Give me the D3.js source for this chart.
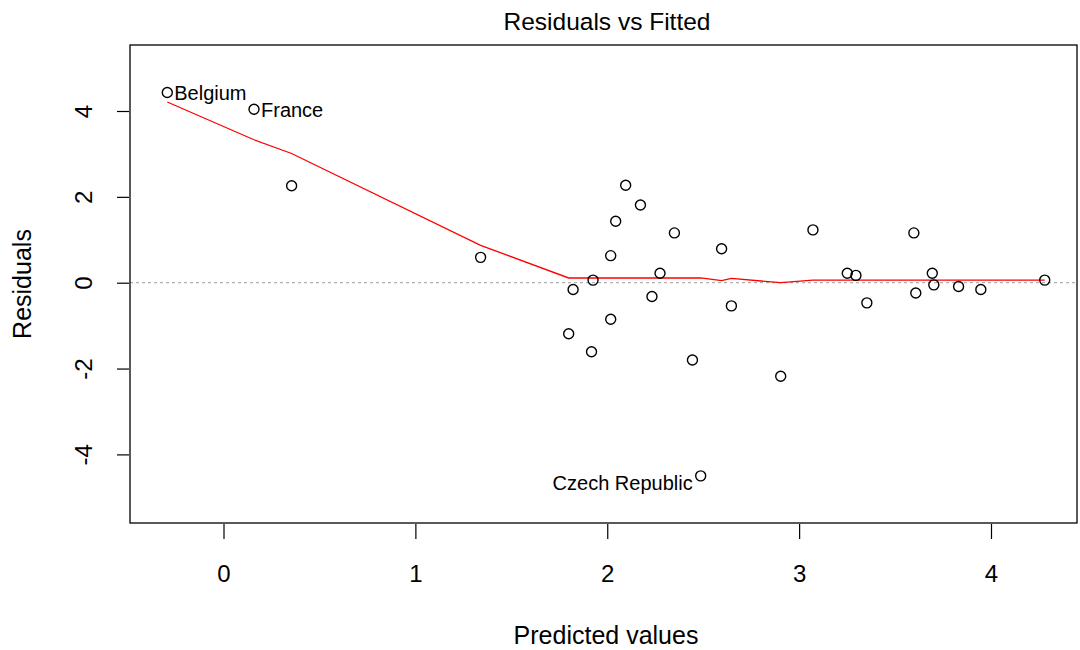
<!DOCTYPE html>
<html>
<head>
<meta charset="utf-8">
<script src="https://cdn.jsdelivr.net/npm/d3@7"></script>
<style>
  body { margin: 0; background: #fff; }
  svg text { font-family: "Liberation Sans", Arial, sans-serif; fill: #000; }
</style>
</head>
<body>
<div id="chart"></div>
<script>
// fitted values and residuals
const fitted = [-0.293, 0.159, 0.355, 1.340, 2.096, 2.173, 2.044, 2.350, 2.596, 3.072,
  2.018, 2.275, 1.926, 1.822, 2.233, 2.647, 2.018, 1.799, 1.918, 2.444, 2.904,
  3.598, 3.251, 3.296, 3.694, 3.702, 3.831, 3.947, 3.608, 3.353, 4.280, 2.487];
const residuals = [4.43, 4.04, 2.26, 0.59, 2.27, 1.81, 1.43, 1.16, 0.79, 1.23,
  0.63, 0.22, 0.06, -0.16, -0.32, -0.54, -0.85, -1.19, -1.61, -1.80, -2.18,
  1.16, 0.22, 0.17, 0.22, -0.05, -0.09, -0.16, -0.24, -0.47, 0.06, -4.50];
const labels = ["Belgium", "France", "", "", "", "", "", "", "", "",
  "", "", "", "", "", "", "", "", "", "", "",
  "", "", "", "", "", "", "", "", "", "", "Czech Republic"];
// smoother (red line)
const smoothX = [-0.293, 0.159, 0.355, 1.340, 1.799, 2.487, 2.596, 2.647, 2.904, 3.072, 4.280];
const smoothY = [4.21, 3.33, 3.01, 0.87, 0.11, 0.11, 0.05, 0.10, 0.00, 0.06, 0.06];
const xTicks = [0, 1, 2, 3, 4];
const yTicks = [-4, -2, 0, 2, 4];

const width = 1080, height = 650;
const plot = {left: 130, right: 1077, top: 45, bottom: 523};

const svg = d3.select("#chart").append("svg")
  .attr("width", width)
  .attr("height", height);

const x = d3.scaleLinear().domain([0, 4]).range([223.5, 991]);
const y = d3.scaleLinear().domain([-4, 4]).range([454.4, 111]);

// zero reference line
svg.append("line")
  .attr("x1", plot.left).attr("x2", plot.right)
  .attr("y1", y(0)).attr("y2", y(0))
  .attr("stroke", "#b0b0b0")
  .attr("stroke-width", 1.2)
  .attr("stroke-dasharray", "3,3");

// smoother
const line = d3.line()
  .x((d, i) => x(smoothX[i]))
  .y(d => y(d));
svg.append("path")
  .datum(smoothY)
  .attr("d", line)
  .attr("fill", "none")
  .attr("stroke", "#ff0000")
  .attr("stroke-width", 1.3);

// points
svg.append("g").selectAll("circle")
  .data(fitted)
  .enter().append("circle")
  .attr("cx", d => x(d))
  .attr("cy", (d, i) => y(residuals[i]))
  .attr("r", 5)
  .attr("fill", "none")
  .attr("stroke", "#000")
  .attr("stroke-width", 1.4);

// point labels
const left = i => labels[i] === "Czech Republic";
svg.append("g").selectAll("text")
  .data(fitted.map((d, i) => i).filter(i => labels[i] !== ""))
  .enter().append("text")
  .attr("x", i => left(i) ? x(fitted[i]) - 8 : x(fitted[i]) + 7)
  .attr("y", i => y(residuals[i]) + (left(i) ? 14 : 7.5))
  .attr("text-anchor", i => left(i) ? "end" : "start")
  .attr("font-size", 20)
  .text(i => labels[i]);

// box
svg.append("rect")
  .attr("x", plot.left).attr("y", plot.top)
  .attr("width", plot.right - plot.left)
  .attr("height", plot.bottom - plot.top)
  .attr("fill", "none")
  .attr("stroke", "#000")
  .attr("stroke-width", 1.3);

// x axis
const xAxis = svg.append("g")
  .attr("transform", "translate(0," + (plot.bottom + 1) + ")")
  .call(d3.axisBottom(x).tickValues(xTicks).tickSize(15).tickFormat(d => String(d)));
xAxis.select(".domain").remove();
xAxis.selectAll("line").attr("stroke-width", 1.2);
xAxis.selectAll("text")
  .attr("font-size", 24)
  .attr("font-family", "Liberation Sans, Arial, sans-serif")
  .attr("y", 58).attr("dy", null);

// y axis
const yAxis = svg.append("g")
  .attr("transform", "translate(" + (plot.left - 1) + ",0)")
  .call(d3.axisLeft(y).tickValues(yTicks).tickSize(12).tickFormat(d => String(d)));
yAxis.select(".domain").remove();
yAxis.selectAll("line").attr("stroke-width", 1.2);
yAxis.selectAll("text")
  .attr("font-size", 24)
  .attr("font-family", "Liberation Sans, Arial, sans-serif")
  .attr("x", null).attr("dy", null)
  .attr("text-anchor", "middle")
  .attr("transform", "translate(-37,0) rotate(-90)");

// titles
svg.append("text")
  .attr("x", 607)
  .attr("y", 30)
  .attr("text-anchor", "middle")
  .attr("font-size", 24.5)
  .text("Residuals vs Fitted");

svg.append("text")
  .attr("x", 606)
  .attr("y", 644)
  .attr("text-anchor", "middle")
  .attr("font-size", 25)
  .text("Predicted values");

svg.append("text")
  .attr("transform", "translate(31," + ((plot.top + plot.bottom) / 2) + ") rotate(-90)")
  .attr("text-anchor", "middle")
  .attr("font-size", 25)
  .text("Residuals");
</script>
</body>
</html>
